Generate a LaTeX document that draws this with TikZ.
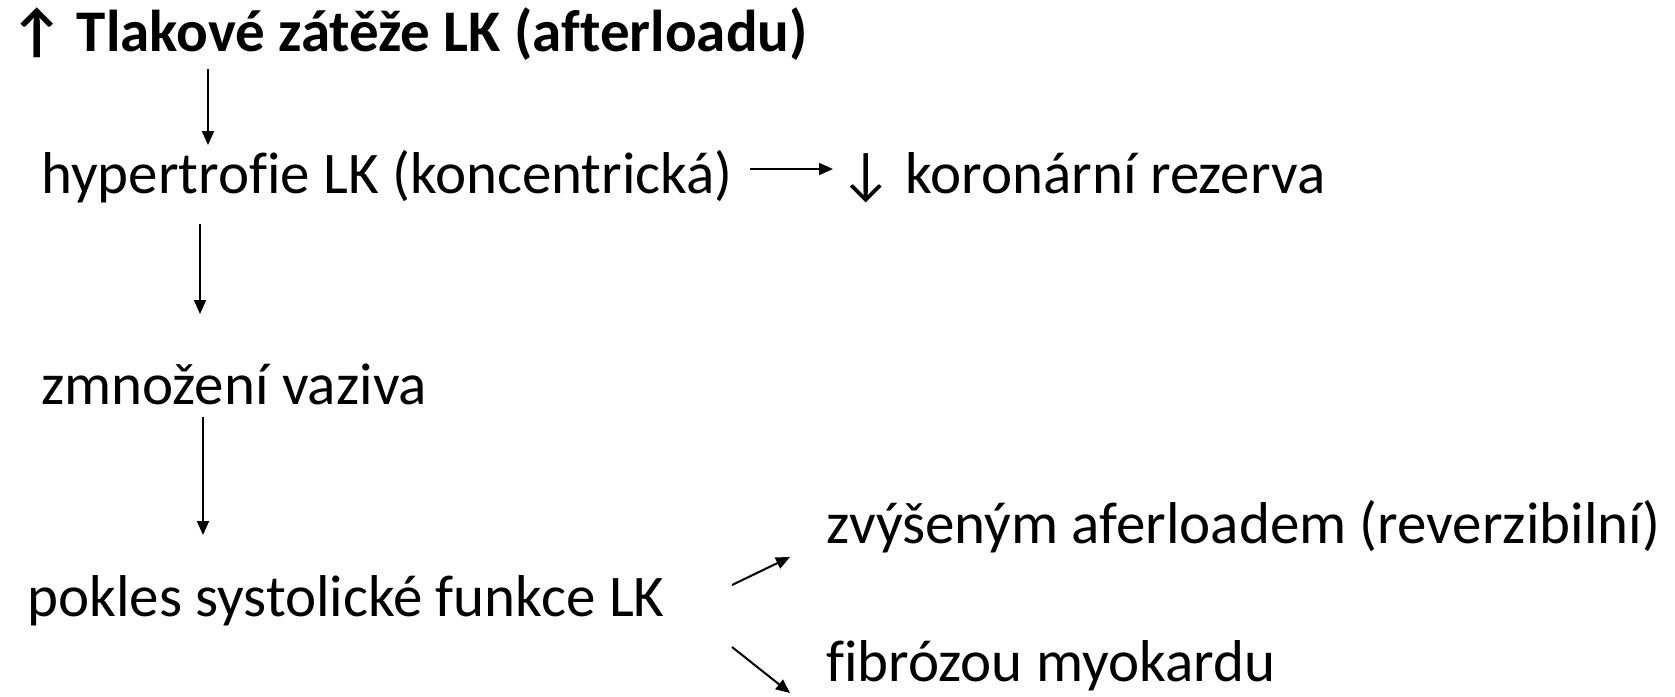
\documentclass[tikz,border=0pt]{standalone}
\usepackage{fontspec}
\setmainfont{Carlito}[Ligatures=NoCommon]
\usetikzlibrary{arrows.meta}
\tikzset{
  txt/.style={anchor=base west,inner sep=0pt,font=\fontsize{59}{66}\selectfont},
  arr/.style={line width=2pt,-{Triangle[length=14pt,width=12pt]}}
}
\begin{document}
\begin{tikzpicture}[x=1pt,y=-1pt]
      \useasboundingbox (0,0) rectangle (1675,696);
      \node (load) at (10,51) [txt] {\textbf{↑ Tlakové zátěže LK (afterloadu)}};
      \node (hyp) at (41,193) [txt] {hypertrofie LK (koncentrická)};
      \node (kor) at (839,193) [txt] {↓ koronární rezerva};
      \node (vaz) at (41,404) [txt] {zmnožení vaziva};
      \node (pokles) at (27,616) [txt] {pokles systolické funkce LK};
      \node (rev) at (826,543) [txt] {zvýšeným aferloadem (reverzibilní)};
      \node (fib) at (826,681) [txt] {fibrózou myokardu};
      \draw[arr] ([shift={(198,18)}]load.base west) to ([shift={(167,-48)}]hyp.base west);
      \draw[arr] ([shift={(709,-24)}]hyp.base west) to ([shift={(-6,-24)}]kor.base west);
      \draw[arr] ([shift={(159,31)}]hyp.base west) to ([shift={(159,-90)}]vaz.base west);
      \draw[arr] ([shift={(162,13)}]vaz.base west) to ([shift={(176,-81)}]pokles.base west);
      \draw[arr] ([shift={(705,-31)}]pokles.base west) to ([shift={(-36,14)}]rev.base west);
      \draw[arr] ([shift={(705,31)}]pokles.base west) to ([shift={(-36,12)}]fib.base west);
    \end{tikzpicture}
\end{document}
